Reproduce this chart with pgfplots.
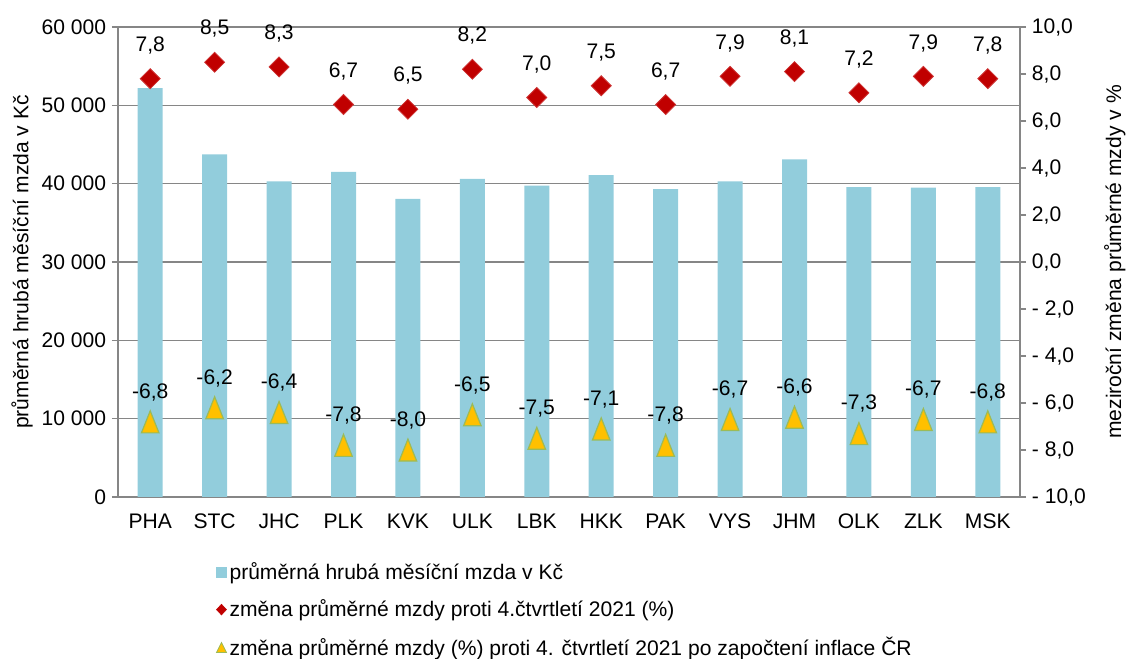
\documentclass[border=0pt]{standalone}
\usepackage{fontspec}
\setmainfont{Liberation Sans}
\usepackage{pgfplots}
\pgfplotsset{compat=1.18}
\definecolor{barcol}{RGB}{146,205,220}
\definecolor{dia}{RGB}{192,0,0}
\definecolor{tri}{RGB}{255,192,0}
\definecolor{triedge}{RGB}{155,187,89}
\definecolor{axgray}{RGB}{134,134,134}
\newcommand{\ff}{\fontsize{15.8}{19}\selectfont}

\pgfplotsset{
  base/.style={
    scale only axis, width=676.5pt, height=352.5pt,
    at={(0pt,0pt)}, anchor=south west,
    xmin=-0.5, xmax=13.5,
    axis line style={-, axgray, line width=0.9pt},
    tick style={axgray, line width=0.9pt},
    tick align=outside,
    major tick length=4.5pt,
    minor tick length=4.5pt,
    tick label style={font=\ff, text=black},
    label style={font=\ff, text=black},
    scaled y ticks=false,
  }
}

\begin{document}
\ff
\begin{tikzpicture}
\path[use as bounding box] (-88.5pt,-121.5pt) rectangle (757.5pt,372.75pt);

% mzda v Kc (bars, left axis)
\begin{axis}[base,
  axis x line*=bottom, axis y line*=left,
  ymin=0, ymax=60000,
  ytick={0,10000,...,60000},
  yticklabels={0,10 000,20 000,30 000,40 000,50 000,60 000},
  ymajorgrids, grid style={axgray, line width=0.9pt},
  xtick={0,...,13},
  xticklabels={PHA,STC,JHC,PLK,KVK,ULK,LBK,HKK,PAK,VYS,JHM,OLK,ZLK,MSK},
  xtick style={draw=none},
  minor xtick={-0.5,0.5,...,13.5},
  xticklabel style={yshift=-3pt},
  yticklabel style={xshift=1pt},
  ylabel={průměrná hrubá měsíční mzda v Kč},
  every axis y label/.style={at={(axis description cs:-0.1064,0.5)}, rotate=90, anchor=center},
]
\addplot[ybar, bar width=18.75pt, fill=barcol, draw=none] coordinates {
  (0,52200) (1,43750) (2,40300) (3,41500) (4,38050) (5,40600) (6,39750)
  (7,41100) (8,39300) (9,40300) (10,43100) (11,39550) (12,39500) (13,39550)
};
\end{axis}

% zmeny v % (right axis)
\begin{axis}[base,
  axis x line=none, axis y line*=right,
  ymin=-10, ymax=10,
  ytick={-10,-8,...,10},
  yticklabels={{- 10,0},{- 8,0},{- 6,0},{- 4,0},{- 2,0},{0,0},{2,0},{4,0},{6,0},{8,0},{10,0}},
  yticklabel style={xshift=-1pt},
  ylabel={meziroční změna průměrné mzdy v \%},
  every axis y label/.style={at={(axis description cs:1.105,0.5)}, rotate=90, anchor=center},
  clip=false,
  point meta=explicit symbolic,
  nodes near coords,
  nodes near coords style={anchor=center, yshift=25pt, font=\ff, text=black},
  legend style={at={(axis description cs:0.104,-0.1265)}, anchor=north west,
    draw=none, fill=none, font=\ff, row sep=9pt, legend cell align=left},
]
\addplot[only marks, mark=square*, mark size=5.3pt,
  mark options={rotate=45, fill=dia, draw=dia!80!white, line width=0.6pt}, forget plot] coordinates {
  (0,7.8)[7,8] (1,8.5)[8,5] (2,8.3)[8,3] (3,6.7)[6,7] (4,6.5)[6,5] (5,8.2)[8,2] (6,7.0)[7,0]
  (7,7.5)[7,5] (8,6.7)[6,7] (9,7.9)[7,9] (10,8.1)[8,1] (11,7.2)[7,2] (12,7.9)[7,9] (13,7.8)[7,8]
};
\addplot[only marks, mark=triangle*, mark size=7.6pt,
  mark options={yshift=-2.8pt, yscale=1.45, fill=tri, draw=triedge, line width=0.9pt}, forget plot] coordinates {
  (0,-6.8)[-6,8] (1,-6.2)[-6,2] (2,-6.4)[-6,4] (3,-7.8)[-7,8] (4,-8.0)[-8,0] (5,-6.5)[-6,5] (6,-7.5)[-7,5]
  (7,-7.1)[-7,1] (8,-7.8)[-7,8] (9,-6.7)[-6,7] (10,-6.6)[-6,6] (11,-7.3)[-7,3] (12,-6.7)[-6,7] (13,-6.8)[-6,8]
};
\addlegendimage{legend image code/.code={\fill[barcol] (0pt,-3.75pt) rectangle (7.5pt,3.75pt);}}
\addlegendentry{průměrná hrubá měsíční mzda v Kč}
\addlegendimage{legend image code/.code={\fill[dia] (3.75pt,-4pt)--(7.5pt,0pt)--(3.75pt,4pt)--(0pt,0pt)--cycle;}}
\addlegendentry{změna průměrné mzdy proti 4.čtvrtletí 2021 (\%)}
\addlegendimage{legend image code/.code={\filldraw[fill=tri,draw=triedge,line width=0.6pt] (0pt,-3.5pt)--(7.5pt,-3.5pt)--(3.75pt,4pt)--cycle;}}
\addlegendentry{změna průměrné mzdy (\%) proti 4. čtvrtletí 2021 po započtení inflace ČR}
\end{axis}
\end{tikzpicture}
\end{document}
